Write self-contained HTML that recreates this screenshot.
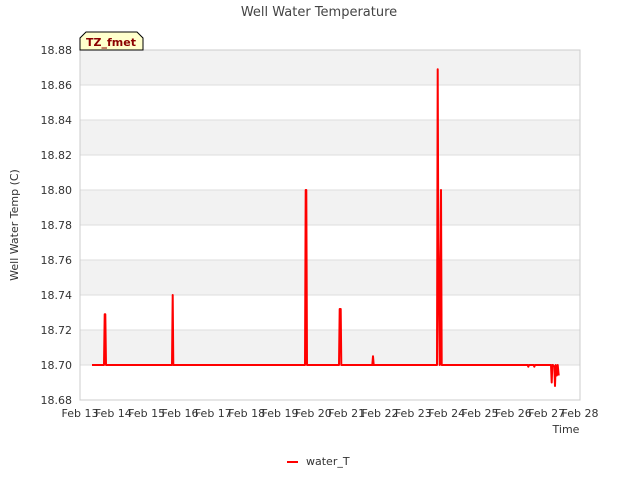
<!DOCTYPE html>
<html><head><meta charset="utf-8"><style>
body{margin:0;background:#fff;font-family:"Liberation Sans","DejaVu Sans",sans-serif}
text{font-family:"DejaVu Sans","Liberation Sans",sans-serif}
</style></head><body>
<svg id="chart" width="640" height="480" xmlns="http://www.w3.org/2000/svg">
<text x="319" y="16" text-anchor="middle" font-size="13" fill="#444">Well Water Temperature</text>
<g id="bands"></g>
<g id="grid"></g>
<rect x="80" y="50" width="500" height="350" fill="none" stroke="#ccc"/>
<g id="yticks" font-size="11" fill="#333"></g>
<g id="xticks" font-size="11" fill="#333"></g>
<text x="18" y="225" transform="rotate(-90 18 225)" text-anchor="middle" font-size="11" fill="#333">Well Water Temp (C)</text>
<text x="566" y="433" text-anchor="middle" font-size="11" fill="#333">Time</text>
<path id="series" fill="none" stroke="#ff0000" stroke-width="2" stroke-linejoin="round"/>
<g>
<path d="M80,50 L80,38 L86,32 L137,32 L143,38 L143,50 Z" fill="#ffffcc" stroke="#000"/>
<text x="111" y="46" text-anchor="middle" font-size="11" font-weight="bold" fill="#8b0000">TZ_fmet</text>
</g>
<g>
<line x1="287" y1="462" x2="298" y2="462" stroke="#ff0000" stroke-width="2"/>
<text x="306" y="465" font-size="11" fill="#333">water_T</text>
</g>
</svg>
<script>
const yTicks=[18.68,18.70,18.72,18.74,18.76,18.78,18.80,18.82,18.84,18.86,18.88];
const xTickLabels=["Feb 13","Feb 14","Feb 15","Feb 16","Feb 17","Feb 18","Feb 19","Feb 20","Feb 21","Feb 22","Feb 23","Feb 24","Feb 25","Feb 26","Feb 27","Feb 28"];
const times=[0.36,0.72,0.74,0.76,0.78,2.76,2.78,2.80,6.75,6.77,6.79,6.81,7.77,7.79,7.82,7.84,8.77,8.79,8.81,10.71,10.73,10.75,10.79,10.83,10.85,13.43,13.45,13.47,13.61,13.63,13.65,14.03,14.13,14.15,14.17,14.19,14.23,14.25,14.27,14.30,14.33,14.36];
const values=[18.70,18.70,18.729,18.729,18.70,18.70,18.74,18.70,18.70,18.80,18.80,18.70,18.70,18.732,18.732,18.70,18.70,18.705,18.70,18.70,18.869,18.77,18.70,18.80,18.70,18.70,18.699,18.70,18.70,18.699,18.70,18.70,18.70,18.69,18.70,18.70,18.699,18.688,18.70,18.694,18.70,18.694];
const X0=80,X1=580,Y0=400,Y1=50,ymin=18.68,ymax=18.88,days=15;
const xs=d=>X0+(X1-X0)*d/days;
const ys=v=>Y0-(Y0-Y1)*(v-ymin)/(ymax-ymin);
const NS="http://www.w3.org/2000/svg";
const bands=document.getElementById('bands'),grid=document.getElementById('grid'),yt=document.getElementById('yticks'),xt=document.getElementById('xticks');
for(let i=0;i<yTicks.length;i++){
  const y=ys(yTicks[i]);
  if(i%2===0&&i>0){
    const r=document.createElementNS(NS,'rect');
    
    
    r.setAttribute('x',X0);r.setAttribute('width',X1-X0);
    r.setAttribute('y',y);r.setAttribute('height',ys(yTicks[i-1])-y);
    r.setAttribute('fill','#f2f2f2');bands.appendChild(r);
  }
  const l=document.createElementNS(NS,'line');
  
  
  l.setAttribute('x1',X0);l.setAttribute('x2',X1);l.setAttribute('y1',y);l.setAttribute('y2',y);
  l.setAttribute('stroke','#dddddd');grid.appendChild(l);
  const t=document.createElementNS(NS,'text');
  
  
  t.setAttribute('x',72);t.setAttribute('y',y+4);t.setAttribute('text-anchor','end');
  t.textContent=yTicks[i].toFixed(2);yt.appendChild(t);
}
xTickLabels.forEach((s,i)=>{
  const t=document.createElementNS(NS,'text');
  
  
  t.setAttribute('x',xs(i));t.setAttribute('y',417);t.setAttribute('text-anchor','middle');
  t.textContent=s;xt.appendChild(t);
});
document.getElementById('series').setAttribute('d',times.map((d,i)=>(i?'L':'M')+xs(d).toFixed(1)+','+ys(values[i]).toFixed(1)).join(' '));
</script>
</body></html>
